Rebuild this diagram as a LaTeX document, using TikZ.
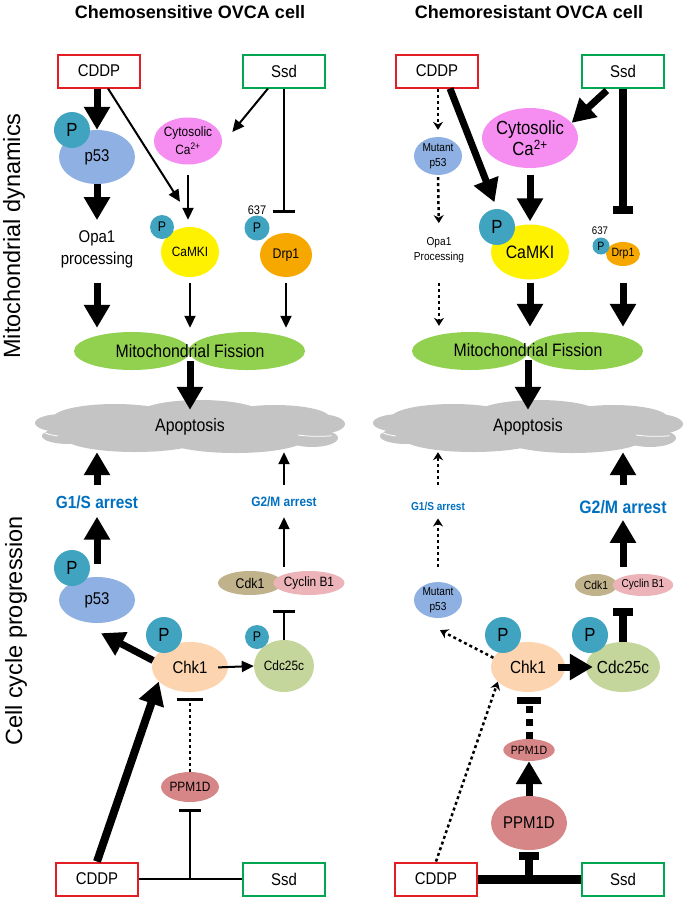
\documentclass[tikz,border=0pt]{standalone}
\usepackage{fontspec}
\setmainfont{Liberation Sans}
\newfontfamily\nf{Liberation Sans}[FakeStretch=0.88]
\usetikzlibrary{shapes.geometric,arrows.meta,calc}

\definecolor{cddpred}{RGB}{228,28,36}
\definecolor{ssdgreen}{RGB}{0,166,80}
\definecolor{pcol}{RGB}{64,164,192}
\definecolor{p53col}{RGB}{142,176,226}
\definecolor{cytocol}{RGB}{246,142,242}
\definecolor{camkcol}{RGB}{255,242,0}
\definecolor{drpcol}{RGB}{246,168,0}
\definecolor{fiscol}{RGB}{146,208,80}
\definecolor{apocol}{RGB}{196,196,196}
\definecolor{arrestblue}{RGB}{0,112,192}
\definecolor{cdkcol}{RGB}{192,178,138}
\definecolor{cyccol}{RGB}{236,180,184}
\definecolor{chkcol}{RGB}{252,212,176}
\definecolor{cdccol}{RGB}{196,214,156}
\definecolor{ppmcol}{RGB}{214,134,134}

\newcommand{\fsz}[2]{\fontsize{#1pt}{#2pt}\selectfont}
% grey apoptosis cloud, built from lobes
\newcommand{\drawcloud}[2]{%
  \begin{scope}[shift={(#1,#2)}]
    \foreach \dx/\dy/\rx/\ry in {0/0/145/17,-75/-9/62/14,10/-13/62/14,85/-9/55/13,
      -128/-4/27/9,-122/9/26/8,128/-3/27/10,122/11/26/9,-55/11/70/14,45/12/70/14}
      \fill[apocol] (\dx,\dy) ellipse [x radius=\rx pt, y radius=\ry pt];
    \draw[white, line width=0.8pt] (-150,3) arc [start angle=200, end angle=250, x radius=30pt, y radius=10pt];
    \draw[white, line width=0.8pt] (108,8) arc [start angle=240, end angle=290, x radius=40pt, y radius=10pt];
  \end{scope}}

\begin{document}
\begin{tikzpicture}[x=1pt,y=-1pt]
	\tikzstyle{prot}=[ellipse, inner sep=0pt]
	\tikzstyle{phos}=[circle, fill=pcol, inner sep=0pt]
	\tikzstyle{drug}=[rectangle, line width=2pt, fill=white, minimum width=82pt, minimum height=33pt, font=\nf\fsz{17}{20}]
	\tikzstyle{lbl}=[inner sep=3pt, align=center]
	\tikzstyle{arrest}=[inner sep=3pt, text=arrestblue]
	\tikzstyle{fat}=[line width=7pt, -{Triangle[width=25pt,length=23pt]}]
	\tikzstyle{slim}=[line width=2pt, -{Triangle[width=11pt,length=12pt]}]
	\tikzstyle{dots}=[line width=2.5pt, dash pattern=on 3pt off 3pt, -{Stealth[width=10pt,length=8pt]}]
	\tikzstyle{stopthin}=[line width=2.5pt, -{Bar[width=22pt]}]
	\tikzstyle{stopfat}=[line width=8pt, -{Bar[width=20pt]}]

	\useasboundingbox (0,0) rectangle (689,898);

	% clouds and fission ellipses
	\drawcloud{190}{427}
	\drawcloud{528}{427}
	\foreach \cx in {132,247,470,585}
		\fill[fiscol] (\cx,351) ellipse [x radius=58pt, y radius=19pt];

	% headings
	\node[font=\bfseries\fsz{18}{20}] (ttl1) at (190,12) {Chemosensitive OVCA cell};
	\node[font=\bfseries\fsz{18}{20}] (ttl2) at (529,12) {Chemoresistant OVCA cell};
	\node[rotate=90, font=\fsz{23.5}{26}] (ax1) at (14,236) {Mitochondrial dynamics};
	\node[rotate=90, font=\fsz{23.5}{26}] (ax2) at (16,631) {Cell cycle progression};

	% chemosensitive, top
	\node[drug, draw=cddpred] (cddpT1) at (99,71) {CDDP};
	\node[drug, draw=ssdgreen] (ssdT1) at (284,71) {Ssd};
	\node[prot, fill=p53col, minimum width=76pt, minimum height=54pt, font=\nf\fsz{17}{20}] (p53a) at (97,157) {p53};
	\node[phos, minimum size=36pt, font=\nf\fsz{19}{20}] (pA) at (72,130) {P};
	\node[prot, fill=cytocol, minimum width=55pt, minimum height=47pt, align=center, font=\nf\fsz{13.5}{18}] (cyto1) at (188,141) {Cytosolic\\Ca\textsuperscript{2+}};
	\node[lbl, font=\nf\fsz{17}{22}] (opa1) at (97,249) {Opa1\\processing};
	\node[prot, fill=camkcol, minimum width=58pt, minimum height=50pt, font=\nf\fsz{13.5}{16}] (camk1) at (190,252) {CaMKI};
	\node[phos, minimum size=24pt, font=\nf\fsz{14}{16}] (pF) at (162,227) {P};
	\node[font=\nf\fsz{12.5}{14}] (num1) at (257,210) {637};
	\node[prot, fill=drpcol, minimum width=52pt, minimum height=44pt, font=\nf\fsz{14}{16}] (drp1) at (286,255) {Drp1};
	\node[phos, minimum size=25pt, font=\nf\fsz{14}{16}] (pG) at (257,228) {P};
	\node[minimum width=230pt, minimum height=20pt, font=\nf\fsz{18}{20}] (fis1) at (190,351) {Mitochondrial Fission};
	\node[minimum width=280pt, minimum height=34pt, font=\nf\fsz{18}{20}] (apo1) at (190,427) {Apoptosis};

	% chemosensitive, bottom
	\node[arrest, font=\nf\bfseries\fsz{17.5}{20}] (g1s1) at (97,502) {G1/S arrest};
	\node[arrest, font=\nf\bfseries\fsz{13.5}{16}] (g2m1) at (284,502) {G2/M arrest};
	\node[prot, fill=p53col, minimum width=76pt, minimum height=46pt, font=\nf\fsz{17}{20}] (p53b) at (97,600) {p53};
	\node[phos, minimum size=36pt, font=\nf\fsz{19}{20}] (pB) at (72,568) {P};
	\node[prot, fill=cdkcol, minimum width=64pt, minimum height=24pt, font=\nf\fsz{14}{16}] (cdk1) at (250,583) {Cdk1};
	\node[prot, fill=cyccol, minimum width=58pt, minimum height=24pt, font=\nf\fsz{13.5}{16}] (cyc1) at (309,583) {Cyclin B1};
	\node[prot, fill=chkcol, minimum width=76pt, minimum height=50pt, font=\nf\fsz{17}{20}] (chk1) at (190,667) {Chk1};
	\node[phos, minimum size=36pt, font=\nf\fsz{19}{20}] (pC) at (164,635) {P};
	\node[prot, fill=cdccol, minimum width=60pt, minimum height=52pt, font=\nf\fsz{13.5}{16}] (cdc1) at (284,666) {Cdc25c};
	\node[phos, minimum size=24pt, font=\nf\fsz{14}{16}] (pD) at (257,637) {P};
	\node[prot, fill=ppmcol, minimum width=56pt, minimum height=30pt, font=\nf\fsz{13.5}{16}] (ppm1) at (190,787) {PPM1D};
	\node[drug, draw=cddpred] (cddpB1) at (97,879) {CDDP};
	\node[drug, draw=ssdgreen] (ssdB1) at (284,879) {Ssd};
	\coordinate (jn1) at (ppm1 |- cddpB1);

	% chemoresistant, top
	\node[drug, draw=cddpred] (cddpT2) at (437,71) {CDDP};
	\node[drug, draw=ssdgreen] (ssdT2) at (623,71) {Ssd};
	\node[prot, fill=p53col, minimum width=48pt, minimum height=38pt, align=center, font=\nf\fsz{11.5}{15}] (mp53a) at (438,156) {Mutant\\p53};
	\node[lbl, font=\nf\fsz{11.5}{15}] (opa2) at (439,250) {Opa1\\Processing};
	\node[prot, fill=cytocol, minimum width=93pt, minimum height=60pt, align=center, font=\nf\fsz{19}{21}] (cyto2) at (530,138) {Cytosolic\\Ca\textsuperscript{2+}};
	\node[prot, fill=camkcol, minimum width=78pt, minimum height=55pt, font=\nf\fsz{18}{20}] (camk2) at (530,252) {CaMKI};
	\node[phos, minimum size=36pt, font=\nf\fsz{19}{20}] (pE) at (497,227) {P};
	\node[font=\nf\fsz{11}{13}] (num2) at (600,231) {637};
	\node[prot, fill=drpcol, minimum width=34pt, minimum height=24pt, font=\nf\fsz{12}{14}] (drp2) at (623,254) {Drp1};
	\node[phos, minimum size=17pt, font=\nf\fsz{12}{14}] (pG2) at (601,246) {P};
	\node[minimum width=230pt, minimum height=20pt, font=\nf\fsz{18}{20}] (fis2) at (528,350) {Mitochondrial Fission};
	\node[minimum width=280pt, minimum height=34pt, font=\nf\fsz{18}{20}] (apo2) at (528,427) {Apoptosis};

	% chemoresistant, bottom
	\node[arrest, font=\nf\bfseries\fsz{11.5}{14}] (g1s2) at (438,506) {G1/S arrest};
	\node[arrest, font=\nf\bfseries\fsz{18}{20}] (g2m2) at (623,507) {G2/M arrest};
	\node[prot, fill=p53col, minimum width=48pt, minimum height=36pt, align=center, font=\nf\fsz{11.5}{15}] (mp53b) at (438,600) {Mutant\\p53};
	\node[prot, fill=cdkcol, minimum width=42pt, minimum height=22pt, font=\nf\fsz{11.7}{14}] (cdk2) at (596,585) {Cdk1};
	\node[prot, fill=cyccol, minimum width=52pt, minimum height=22pt, font=\nf\fsz{11.5}{14}] (cyc2) at (643,585) {Cyclin B1};
	\node[prot, fill=chkcol, minimum width=74pt, minimum height=50pt, font=\nf\fsz{17.5}{20}] (chk2) at (528,667) {Chk1};
	\node[phos, minimum size=36pt, font=\nf\fsz{19}{20}] (pH) at (503,635) {P};
	\node[prot, fill=cdccol, minimum width=74pt, minimum height=50pt, font=\nf\fsz{17.5}{20}] (cdc2) at (623,667) {Cdc25c};
	\node[phos, minimum size=36pt, font=\nf\fsz{19}{20}] (pI) at (590,635) {P};
	\node[prot, fill=ppmcol, minimum width=44pt, minimum height=22pt, font=\nf\fsz{12}{14}] (ppm2s) at (529,750) {PPM1D};
	\node[prot, fill=ppmcol, minimum width=76pt, minimum height=54pt, font=\nf\fsz{17}{20}] (ppm2b) at (529,823) {PPM1D};
	\node[drug, draw=cddpred] (cddpB2) at (436,879) {CDDP};
	\node[drug, draw=ssdgreen] (ssdB2) at (623,879) {Ssd};
	\coordinate (jn2) at (ppm2b |- cddpB2);

	% chemosensitive connectors
	\draw[fat] (cddpT1.south -| p53a) -- (p53a.north);
	\draw[fat, shorten >=7pt] (p53a.south) -- (opa1.north);
	\draw[fat, shorten <=12pt, shorten >=13pt] (opa1.south) -- (opa1.south |- fis1.north);
	\draw[slim] ([xshift=9pt]cddpT1.south) -- ([shift={(-10,-25)}]camk1.north);
	\draw[slim] ([xshift=-16pt]ssdT1.south) -- ([shift={(10,-9)}]cyto1.east);
	\draw[slim, shorten <=10pt, shorten >=7pt] (cyto1.south) -- (cyto1.south |- camk1.north);
	\draw[stopthin, shorten >=20pt] (ssdT1.south) -- (ssdT1.south |- drp1.north);
	\foreach \from in {camk1,drp1}
		\draw[slim, shorten <=6pt, shorten >=13pt] (\from.south) -- (\from.south |- fis1.north);
	\draw[fat] (fis1.south) -- (apo1.north);
	\draw[fat, shorten <=7pt, shorten >=8pt] (g1s1.north) -- (g1s1.north |- apo1.south);
	\draw[fat, shorten <=13pt, shorten >=5pt] (g1s1 |- p53b.north) -- (g1s1.south);
	\draw[slim, shorten <=9pt, shorten >=8pt] (g2m1.north) -- (g2m1.north |- apo1.south);
	\draw[slim, shorten <=4pt, shorten >=7pt] (g2m1 |- cdk1.north) -- (g2m1.south);
	\draw[stopthin, shorten >=15pt] (cdc1.north) -- (cdc1.north |- cdk1.south);
	\draw[fat] (chk1.170) -- ([shift={(4,10)}]p53b.south);
	\draw[slim, shorten <=-10pt] (chk1.east) -- (cdc1.west);
	\draw[line width=2.5pt, dash pattern=on 3pt off 3pt, -{Bar[width=26pt]}, shorten >=6pt] (ppm1.north) -- (ppm1.north |- chk1.south);
	\draw[stopthin, shorten >=7pt] (jn1) -- (ppm1.south);
	\draw[line width=2.5pt] (cddpB1) -- (ssdB1);
	\draw[line width=8pt, -{Triangle[width=25pt,length=23pt]}] (cddpB1.north) -- (chk1.205);

	% chemoresistant connectors
	\draw[dots, shorten >=7pt] (cddpT2.south -| mp53a) -- (mp53a.north);
	\draw[dots, shorten <=2pt, shorten >=11pt] (mp53a.south) -- (opa2.north);
	\draw[dots, shorten <=17pt, shorten >=14pt] (opa2.south) -- (opa2.south |- fis2.north);
	\draw[fat, shorten >=7pt] ([xshift=13pt]cddpT2.south) -- (pE.north);
	\draw[fat, shorten <=3pt] ([xshift=-14pt]ssdT2.south) -- (cyto2.20);
	\draw[fat, shorten <=7pt, shorten >=3pt] (cyto2.south) -- (cyto2.south |- camk2.north);
	\draw[stopfat, shorten >=28pt] (ssdT2.south) -- (ssdT2.south |- drp2.north);
	\draw[fat, shorten <=3pt, shorten >=13pt] (camk2.south) -- (camk2.south |- fis2.north);
	\draw[fat, shorten <=17pt, shorten >=13pt] (drp2.south) -- (drp2.south |- fis2.north);
	\draw[fat] (fis2.south) -- (apo2.north);
	\draw[dots, shorten <=14pt, shorten >=8pt] (g1s2.north) -- (g1s2.north |- apo2.south);
	\draw[dots, shorten <=15pt, shorten >=5pt] (mp53b.north) -- (g1s2.south);
	\draw[fat, shorten <=12pt, shorten >=8pt] (g2m2.north) -- (g2m2.north |- apo2.south);
	\draw[fat, shorten <=7pt, shorten >=3pt] (g2m2 |- cdk2.north) -- (g2m2.south);
	\draw[stopfat, shorten >=12pt] (cdc2.north) -- (cdc2.north |- cdk2.south);
	\draw[fat, shorten <=-7pt, shorten >=-7pt] (chk2.east) -- (cdc2.west);
	\draw[dots] (chk2.165) -- ([shift={(2,12)}]mp53b.south);
	\draw[line width=7pt, dash pattern=on 7pt off 6pt, -{Bar[width=24pt]}, shorten >=5pt] (ppm2s.north) -- (ppm2s.north |- chk2.south);
	\draw[fat] (ppm2b.north) -- (ppm2s.south);
	\draw[stopfat, shorten >=2pt] (jn2) -- (ppm2b.south);
	\draw[line width=9pt] (cddpB2) -- (ssdB2);
	\draw[dots] (cddpB2.north) -- (chk2.206);
\end{tikzpicture}
\end{document}
